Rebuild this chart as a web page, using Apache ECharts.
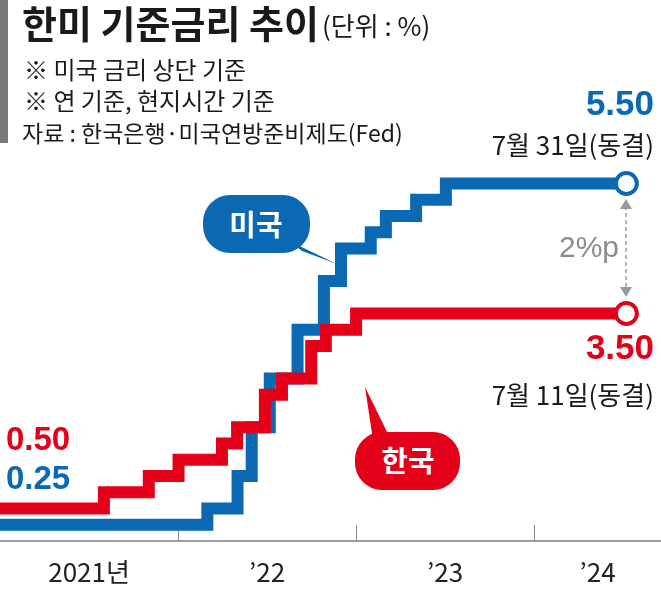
<!DOCTYPE html>
<html>
<head>
<meta charset="utf-8">
<script src="https://cdn.jsdelivr.net/npm/echarts@6/dist/echarts.min.js"></script>
<style>
html,body{margin:0;padding:0;background:#fff;}
#chart{width:661px;height:591px;}
</style>
</head>
<body>
<div id="chart"></div>
<script>
// ---- data ----
const krDates = ['2021-01-01','2021-08-02','2021-11-02','2022-01-02','2022-04-01','2022-05-02','2022-06-28','2022-08-02','2022-10-01','2022-10-31','2023-01-01','2024-07-08'];
const krRates = [0.50, 0.75, 1.00, 1.25, 1.50, 1.75, 2.25, 2.50, 3.00, 3.25, 3.50, 3.50];
const usDates = ['2021-01-01','2022-03-02','2022-05-03','2022-06-01','2022-07-08','2022-09-03','2022-10-27','2022-12-01','2023-01-31','2023-03-03','2023-05-04','2023-07-04','2024-07-08'];
const usRates = [0.25, 0.50, 1.00, 1.75, 2.50, 3.25, 4.00, 4.50, 4.75, 5.00, 5.25, 5.50, 5.50];
const yearTicks = ['2022-01-01','2023-01-01','2024-01-01'];
const yearLabels = ['2021년', '\u201922', '\u201923', '\u201924'];
const axisStart = '2021-01-01';
const axisEnd = '2024-09-17';
const endNotes = ['7월 31일(동결)', '7월 11일(동결)'];
const seriesNames = ['미국', '한국'];

// ---- build: x = days since axisStart ----
const DAY = 86400000;
const t0 = Date.UTC(2021, 0, 1);
const dayOf = s => { const p = s.split('-').map(Number); return Math.round((Date.UTC(p[0], p[1] - 1, p[2]) - t0) / DAY); };
const bounds = [axisStart].concat(yearTicks).concat([axisEnd]).map(dayOf);
const labelVals = [];
for (let i = 0; i < bounds.length - 1; i++) labelVals.push((bounds[i] + bounds[i + 1]) / 2);

const BLUE = '#0b68b3', RED = '#e50019';
const FONT = '"Noto Sans CJK KR", "Noto Sans", sans-serif';
const NUMF = '"Liberation Sans", Arial, sans-serif';

function lineSeries(name, dates, rates, color, z) {
  const last = dates.length - 1;
  return {
    name: name, type: 'line', step: 'end', z: z,
    data: dates.map((d, i) => [dayOf(d), rates[i]]),
    symbol: (v, p) => p.dataIndex === last ? 'circle' : 'none',
    symbolSize: 21,
    showSymbol: true,
    itemStyle: { color: '#fff', borderColor: color, borderWidth: 4 },
    lineStyle: { color: color, width: 12, cap: 'butt', join: 'miter' },
    emphasis: { disabled: true },
    silent: true
  };
}

function txt(text, x, y, font, fill, align) {
  return { type: 'text', x: x, y: y, z: 50, silent: true,
    style: { text: text, font: font, fill: fill, align: align || 'left', textAlign: align || 'left',
      verticalAlign: 'middle', textVerticalAlign: 'middle' } };
}

const chart = echarts.init(document.getElementById('chart'), null, { renderer: 'canvas' });
chart.setOption({
  animation: false,
  backgroundColor: '#fff',
  grid: { left: 0, right: 0, top: 151, bottom: 50, containLabel: false, outerBoundsMode: 'none' },
  xAxis: {
    type: 'value',
    min: bounds[0], max: bounds[bounds.length - 1],
    axisLine: { show: true, lineStyle: { color: '#7d7d7d', width: 1.5 } },
    axisTick: { show: true, inside: true, length: 16, customValues: yearTicks.map(dayOf), lineStyle: { color: '#8a8a8a', width: 1 } },
    axisLabel: {
      show: true, customValues: labelVals, margin: 18,
      color: '#222', fontSize: 26, fontFamily: FONT,
      formatter: function (v) {
        let best = 0, bd = Infinity;
        labelVals.forEach((lv, i) => { const d = Math.abs(lv - v); if (d < bd) { bd = d; best = i; } });
        return yearLabels[best];
      }
    },
    splitLine: { show: false }
  },
  yAxis: { type: 'value', min: 0, max: 6, show: false, splitLine: { show: false } },
  series: [
    lineSeries(seriesNames[0], usDates, usRates, BLUE, 2),
    lineSeries(seriesNames[1], krDates, krRates, RED, 3)
  ],
  graphic: [
    { type: 'rect', shape: { x: 0, y: 0, width: 8, height: 143 }, style: { fill: '#7a7a7a' }, silent: true },
    txt('한미 기준금리 추이', 22, 24, 'bold 38px ' + FONT, '#1a1a1a'),
    txt('(단위 : %)', 322, 26, '26px ' + FONT, '#1a1a1a'),
    txt('※ 미국 금리 상단 기준', 24, 70, '24px ' + FONT, '#1a1a1a'),
    txt('※ 연 기준, 현지시간 기준', 24, 101, '24px ' + FONT, '#1a1a1a'),
    txt('자료 : 한국은행·미국연방준비제도(Fed)', 22, 133, '23px ' + FONT, '#1a1a1a'),

    txt(usRates[usRates.length - 1].toFixed(2), 654, 105, 'bold 35px ' + NUMF, BLUE, 'right'),
    txt(endNotes[0], 654, 145, '26px ' + FONT, '#1a1a1a', 'right'),
    txt(krRates[krRates.length - 1].toFixed(2), 654, 349, 'bold 35px ' + NUMF, RED, 'right'),
    txt(endNotes[1], 654, 395, '26px ' + FONT, '#1a1a1a', 'right'),
    txt(krRates[0].toFixed(2), 6, 441, 'bold 33px ' + NUMF, RED),
    txt(usRates[0].toFixed(2), 6, 480, 'bold 33px ' + NUMF, BLUE),

    // US bubble
    { type: 'polygon', shape: { points: [[289, 241], [302, 251], [337, 264]] }, style: { fill: BLUE }, silent: true },
    { type: 'rect', shape: { x: 203, y: 195, width: 107, height: 58, r: 27 }, style: { fill: BLUE }, silent: true },
    txt(seriesNames[0], 256, 225, 'bold 29px ' + FONT, '#fff', 'center'),
    // Korea bubble
    { type: 'polygon', shape: { points: [[373, 440], [389, 436], [365, 387]] }, style: { fill: RED }, silent: true },
    { type: 'rect', shape: { x: 355, y: 432, width: 105, height: 58, r: 27 }, style: { fill: RED }, silent: true },
    txt(seriesNames[1], 408, 461, 'bold 29px ' + FONT, '#fff', 'center'),

    // gap arrow
    { type: 'line', shape: { x1: 626, y1: 206, x2: 626, y2: 290 }, style: { stroke: '#999', lineWidth: 1.5, lineDash: [4, 3] }, silent: true },
    { type: 'polygon', shape: { points: [[626, 199], [620, 209], [632, 209]] }, style: { fill: '#999' }, silent: true },
    { type: 'polygon', shape: { points: [[626, 297], [620, 287], [632, 287]] }, style: { fill: '#999' }, silent: true },
    txt('2%p', 589, 249, '30px ' + NUMF, '#8c8c8c', 'center')
  ]
});
</script>
</body>
</html>
